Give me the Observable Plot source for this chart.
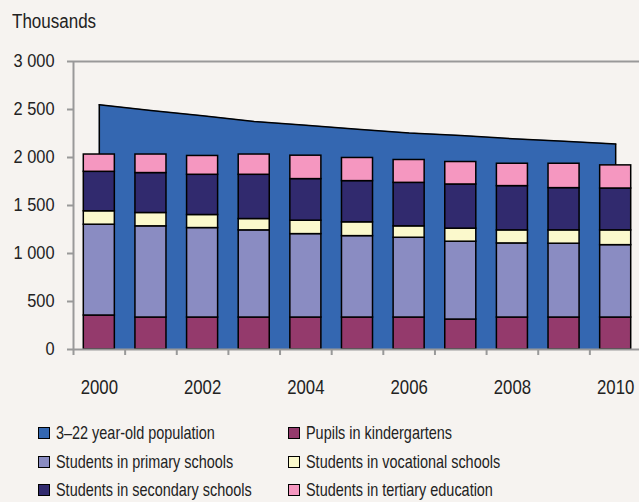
<!DOCTYPE html>
<html><head><meta charset="utf-8">
<script src="https://cdn.jsdelivr.net/npm/d3@7"></script>
<script src="https://cdn.jsdelivr.net/npm/@observablehq/plot@0.6"></script>
<style>
body{margin:0;background:#f6f3f0;width:639px;height:502px;overflow:hidden;font-family:"Liberation Sans Narrow","Arial Narrow","Liberation Sans",sans-serif;color:#222;position:relative}
#title{height:40px;box-sizing:border-box;padding:10px 0 0 12px;font-size:20px;line-height:22px}
#title span{display:inline-block;transform:scaleX(0.85);transform-origin:0 50%}
#chart svg{display:block}
.item{position:absolute;display:flex;align-items:center;font-size:18.5px;white-space:nowrap}
.item span{display:inline-block;transform:scaleX(0.78);transform-origin:0 50%}
.sw{width:10px;height:10px;border:1.5px solid #000;margin-right:6px}
</style></head>
<body>
<div id="title"><span>Thousands</span></div>
<div id="chart"></div>
<div id="legend"></div>
<script>
const years = [2000,2001,2002,2003,2004,2005,2006,2007,2008,2009,2010];
const population = [2550,2490,2435,2375,2335,2295,2255,2230,2195,2170,2140];
const kindergarten = [354,333,333,333,333,333,333,312,333,333,333];
const primary = [946,950,932,908,869,848,831,811,772,769,754];
const vocational = [140,139,136,118,140,144,119,136,136,139,154];
const secondary = [411,416,419,461,433,429,453,460,461,440,436];
const tertiary = [180,193,196,211,244,241,238,234,233,254,241];
const yTicks = [0,500,1000,1500,2000,2500,3000];
const xLabelYears = [2000,2002,2004,2006,2008,2010];

const popName = "3–22 year-old population";
const seriesNames = ["Pupils in kindergartens","Students in primary schools","Students in vocational schools","Students in secondary schools","Students in tertiary education"];
const seriesValues = [kindergarten, primary, vocational, secondary, tertiary];
const colors = ["#3467b1","#943a6c","#8a8cc2","#fbf9cc","#312a6e","#f597c0"];

const popRows = years.map((year,i)=>({year, value: population[i]}));
const barRows = [];
seriesNames.forEach((s,k)=>years.forEach((year,i)=>barRows.push({year, series:s, value: seriesValues[k][i]})));
const boundaries = years.map(y=>y-0.5);
const fmt = d => d3.format(",")(d).replace(/,/g," ");

const chart = Plot.plot({
  width: 639, height: 365,
  marginTop: 21, marginBottom: 56, marginLeft: 73, marginRight: -2,
  style: {background:"transparent", fontFamily:'"Liberation Sans Narrow","Arial Narrow","Liberation Sans",sans-serif', fontSize:"18px", color:"#222"},
  x: {type:"linear", domain:[1999.5,2010.5], label:null},
  y: {domain:[0,3000], label:null},
  color: {domain:[popName,...seriesNames], range: colors},
  marks: [
    Plot.areaY(popRows, {x:"year", y:"value", fill: colors[0]}),
    Plot.ruleX([popRows[0], popRows[popRows.length-1]], {x:"year", y1:0, y2:"value", stroke:"#000", strokeWidth:1.5}),
    Plot.lineY(popRows, {x:"year", y:"value", stroke:"#000", strokeWidth:1.5}),
    Plot.rectY(barRows, Plot.stackY({x1: d=>d.year-0.5, x2: d=>d.year+0.5, y:"value", fill:"series", order: seriesNames, stroke:"#000", strokeWidth:1.5, insetLeft:10.3, insetRight:10.3})),
    Plot.ruleY([3000], {stroke:"#999", strokeWidth:2}),
    Plot.ruleY([0], {stroke:"#999", strokeWidth:2}),
    Plot.ruleX([1999.5], {stroke:"#999", strokeWidth:2}),
    Plot.axisY({ticks: yTicks, tickSize:6, tickPadding:13, tickFormat: fmt, stroke:"#999", strokeWidth:2, strokeOpacity:1}),
    Plot.axisX({ticks: xLabelYears, tickSize:0, tickPadding:31, tickFormat: d=>String(d)}),
    Plot.axisX({ticks: boundaries, tickSize:6, tickFormat: ()=>"", stroke:"#999", strokeWidth:2, strokeOpacity:1})
  ]
});
document.getElementById("chart").appendChild(chart);
d3.select(chart).selectAll('g[aria-label="y-axis tick label"] text')
  .attr("transform", function(){ return (this.getAttribute("transform")||"") + " scale(0.91,1)"; });
d3.select(chart).selectAll('g[aria-label="x-axis tick label"] text')
  .style("font-size","19.5px")
  .attr("transform", function(){ return (this.getAttribute("transform")||"") + " scale(0.86,1)"; });

const legendNames = [popName, seriesNames[0], seriesNames[1], seriesNames[2], seriesNames[3], seriesNames[4]];
const legendColors = [colors[0], colors[1], colors[2], colors[3], colors[4], colors[5]];
const leg = document.getElementById("legend");
legendNames.forEach((name,i)=>{
  const col = i % 2, row = Math.floor(i/2);
  const it = document.createElement("div");
  it.className = "item";
  it.style.left = (col ? 288 : 38) + "px";
  it.style.top = (422 + row*28.5) + "px";
  const sw = document.createElement("div");
  sw.className = "sw"; sw.style.background = legendColors[i];
  const t = document.createElement("span"); t.textContent = name;
  it.appendChild(sw); it.appendChild(t);
  leg.appendChild(it);
});
</script>
</body></html>
